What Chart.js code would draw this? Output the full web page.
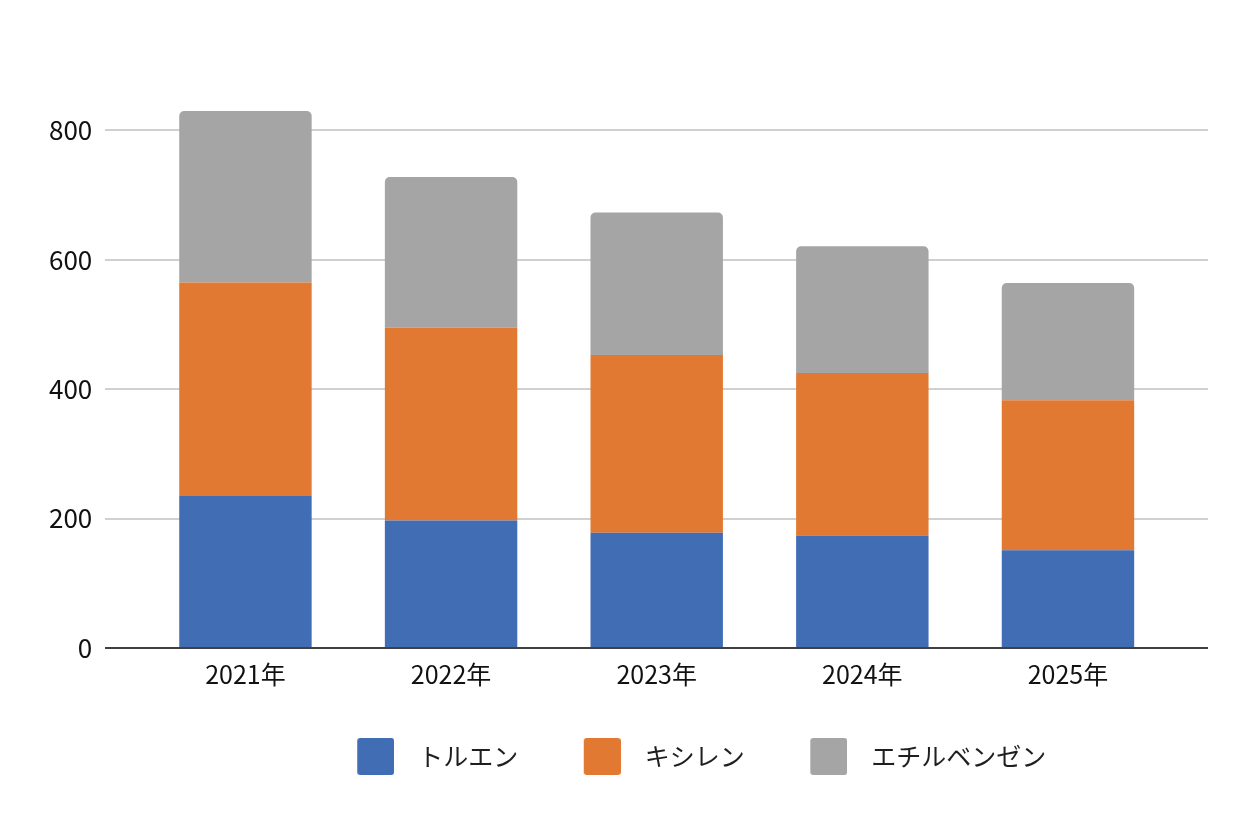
<!DOCTYPE html>
<html>
<head>
<meta charset="utf-8">
<script src="https://cdn.jsdelivr.net/npm/chart.js@4.4.1/dist/chart.umd.min.js"></script>
<style>
  html, body { margin: 0; padding: 0; background: #ffffff; }
  #wrap { width: 1248px; height: 840px; position: relative; }
</style>
</head>
<body>
<div id="wrap"><canvas id="c" width="1248" height="840"></canvas></div>
<script>
// ---- data ----
const categories = ['2021年', '2022年', '2023年', '2024年', '2025年'];
const seriesNames = ['トルエン', 'キシレン', 'エチルベンゼン'];
const toluene = [235, 197, 178, 174, 151];
const xylene = [330, 298, 275, 251, 232];
const ethylbenzene = [265, 233, 220, 196, 181];
const yTicks = [0, 200, 400, 600, 800];
const seriesColors = ['#416db5', '#e27932', '#a5a5a5'];

const FONT = '"Noto Sans CJK JP", "Noto Sans", sans-serif';

// legend swatch images (box + transparent lead-in so the text gap matches)
function swatch(color, radius) {
  const cv = document.createElement('canvas');
  cv.width = 81; cv.height = 37;
  const g = cv.getContext('2d');
  g.fillStyle = color;
  g.beginPath();
  g.roundRect(44, 0, 37, 37, radius);
  g.fill();
  return cv;
}
const swatches = seriesColors.map(c => swatch(c, 3));

const seriesValues = [toluene, xylene, ethylbenzene];
const datasets = seriesValues.map((vals, k) => ({
  label: seriesNames[k],
  data: vals.map((v, i) => ({ x: i, y: v })),
  backgroundColor: seriesColors[k],
  borderWidth: 0,
  borderRadius: k === seriesValues.length - 1 ? { topLeft: 5, topRight: 5, bottomLeft: 0, bottomRight: 0 } : 0,
  borderSkipped: false,
  categoryPercentage: 1,
  barPercentage: 0.644
}));

new Chart(document.getElementById('c'), {
  type: 'bar',
  data: { datasets },
  options: {
    responsive: false,
    animation: false,
    layout: { padding: { top: 98, left: 100, right: 0, bottom: 61 } },
    plugins: {
      tooltip: { enabled: false },
      legend: {
        position: 'bottom',
        fullSize: true,
        labels: {
          usePointStyle: true,
          pointStyleWidth: 104,
          padding: 10,
          color: '#1f1f1f',
          font: { family: FONT, size: 25 },
          generateLabels(chart) {
            const items = Chart.defaults.plugins.legend.labels.generateLabels(chart);
            items.forEach((it, i) => { it.pointStyle = swatches[i]; });
            return items;
          }
        }
      }
    },
    scales: {
      x: {
        type: 'linear',
        stacked: true,
        min: -0.683,
        max: 4.681,
        offset: false,
        grid: { display: false, drawTicks: false },
        border: { display: false },
        afterBuildTicks(s) { s.ticks = categories.map((_, i) => ({ value: i })); },
        afterFit(s) { s.height = 86; },
        ticks: {
          autoSkip: false,
          maxRotation: 0,
          padding: 11,
          color: '#111111',
          font: { family: FONT, size: 25 },
          callback: (v) => categories[v]
        }
      },
      y: {
        stacked: true,
        min: 0,
        max: 850,
        afterBuildTicks(s) { s.ticks = yTicks.map(v => ({ value: v })); },
        afterFit(s) { s.width = 5; },
        border: { display: false },
        grid: {
          drawTicks: false,
          lineWidth: 2,
          color: (c) => (c.tick && c.tick.value === 0) ? '#404040' : '#d0d0d0'
        },
        ticks: {
          mirror: true,
          crossAlign: 'far',
          padding: -56,
          color: '#111111',
          font: { family: FONT, size: 26 },
          callback: (v) => String(v)
        }
      },
      yR: {
        type: 'linear',
        position: 'right',
        display: true,
        grid: { display: false, drawTicks: false },
        border: { display: false },
        ticks: { display: false },
        afterFit(s) { s.width = 40; }
      }
    }
  }
});
</script>
</body>
</html>
